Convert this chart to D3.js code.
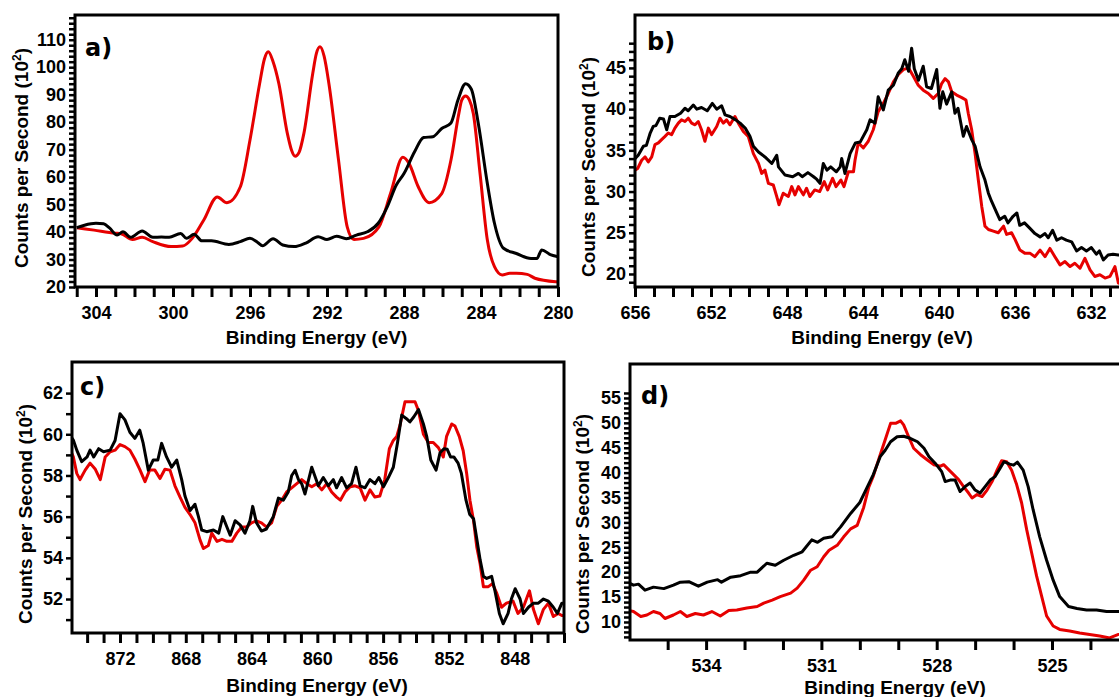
<!DOCTYPE html>
<html>
<head>
<meta charset="utf-8">
<script src="https://cdn.jsdelivr.net/npm/d3@7"></script>
<style>
  html, body { margin: 0; padding: 0; background: #fff; }
  svg { display: block; }
  .tick text { font-family: "Liberation Sans", Arial, sans-serif; font-weight: bold; font-size: 18px; fill: #000; }
  .title { font-family: "Liberation Sans", Arial, sans-serif; font-weight: bold; font-size: 19px; fill: #000; }
  .plabel { font-family: "DejaVu Sans", sans-serif; font-weight: bold; font-size: 24px; fill: #000; }
</style>
</head>
<body>
<svg id="chart" width="1119" height="697"></svg>
<script>
// ---------------- DATA ----------------
// Panel a (C 1s region)
const aRed = [[305.0,41.6],[304.1,40.7],[303.0,39.6],[302.7,39.4],[302.1,37.3],[301.6,38.1],[301.05,36.5],[300.1,34.7],[299.5,34.9],[299.0,37.7],[298.4,44.4],[297.7,52.8],[297.2,50.7],[296.5,56.5],[296.0,73.5],[295.5,94],[295.25,103],[295.05,105.6],[294.8,102],[294.5,94],[294.06,75.9],[293.85,70],[293.65,67.6],[293.45,69],[293.2,75.9],[292.74,97.7],[292.55,105],[292.36,107.4],[292.15,104],[291.9,94],[291.4,66.2],[290.95,41.9],[290.6,37.3],[290.1,37.7],[289.3,41.9],[288.7,54],[288.06,67.2],[287.74,65],[287.26,56.5],[286.7,50.7],[286.04,54],[285.56,66.2],[285.15,83.2],[285.0,88],[284.8,89.5],[284.6,88],[284.4,83.2],[284.05,61.3],[283.67,37.1],[283.3,27.4],[282.9,24.4],[282.5,25],[282.16,25],[281.6,24.6],[281.2,23.2],[280.1,21.9],[279.9,21.8]];
const aBlack = [[305.0,41.6],[304.6,42.5],[304.0,43.2],[303.6,43],[303.3,41.5],[302.9,38.9],[302.6,40.1],[302.2,38.1],[301.6,40.4],[301.05,38.1],[300.6,38.2],[300.2,38.1],[299.6,39.5],[299.3,37.7],[298.9,39.2],[298.5,36.8],[298.0,36.8],[297.1,35.5],[296.5,36.5],[296.0,37.7],[295.6,36.2],[295.35,35],[294.8,37.6],[294.3,35.3],[293.7,34.7],[293.1,36],[292.46,38.3],[292.0,37.3],[291.5,38.5],[291.0,37.6],[290.47,38.9],[289.9,40.1],[289.34,43.2],[288.87,49.2],[288.4,57.1],[288.0,61.3],[287.45,69.2],[286.98,74.4],[286.5,74.7],[286.04,77.7],[285.56,79.7],[285.2,88],[284.8,94],[284.5,92],[284.14,79.5],[283.67,57.7],[283.3,43.2],[282.83,34.1],[282.16,32.2],[281.4,30.4],[281.1,30.4],[280.84,33.5],[280.4,31.8],[280.1,31.2],[279.9,31]];
const aXLabels = [304,300,296,292,288,284,280];
const aYLabels = [20,30,40,50,60,70,80,90,100,110];

// Panel b (Mn 2p region)
const bRed = [[656.0,32.6],[655.86,32.8],[655.65,33.8],[655.47,34.2],[655.3,33.6],[655.12,34.2],[654.95,35.7],[654.77,35.9],[654.6,36.3],[654.42,36.7],[654.25,37.1],[654.07,36.9],[653.9,37.7],[653.72,38.3],[653.55,38.7],[653.37,38.5],[653.2,38.9],[653.02,38.3],[652.84,38.1],[652.67,38.5],[652.5,37.5],[652.32,36.1],[652.14,37.7],[651.97,36.9],[651.7,37.9],[651.53,38.9],[651.35,38.3],[651.18,38.7],[651.0,38.1],[650.74,39.1],[650.56,38.3],[650.3,37.3],[650.04,36.7],[649.77,34.6],[649.5,33.4],[649.33,32.2],[649.16,32.6],[648.98,31.0],[648.72,30.8],[648.54,29.4],[648.42,28.4],[648.2,29.8],[647.93,29.4],[647.75,30.6],[647.58,29.6],[647.4,30.6],[647.14,29.6],[646.97,30.4],[646.8,29.4],[646.54,30.2],[646.28,30],[646.04,31.2],[645.86,30.2],[645.6,31.6],[645.42,30.6],[645.16,31.4],[645.0,30.6],[644.77,32.4],[644.5,32.4],[644.42,33.8],[644.25,35.9],[643.98,35.3],[643.72,36.1],[643.46,37.5],[643.2,39.7],[642.93,40.7],[642.67,41.9],[642.4,43.3],[642.14,44.2],[641.88,44.8],[641.6,45],[641.35,44],[641.09,42.9],[640.83,42.3],[640.56,41.9],[640.3,41.3],[640.04,41.9],[639.86,43.1],[639.68,43.7],[639.5,43.3],[639.33,42.1],[639.07,41.7],[638.8,41.4],[638.58,41.1],[638.46,39.5],[638.28,37.5],[638.1,34.6],[637.93,31.4],[637.75,28.2],[637.58,25.8],[637.4,25.4],[637.14,25.2],[636.88,25],[636.6,25.8],[636.44,24.8],[636.18,25],[636.0,24.2],[635.74,22.9],[635.47,22.5],[635.2,22.5],[634.95,22.1],[634.68,22.9],[634.42,22.1],[634.16,23.1],[633.9,22.1],[633.63,21.1],[633.37,21.5],[633.1,20.9],[632.85,21.3],[632.58,20.7],[632.32,21.9],[632.05,20.5],[631.8,19.7],[631.53,19.9],[631.26,19.5],[631.0,19.7],[630.74,20.9],[630.56,18.9],[630.2,18.6]];
const bBlack = [[656.0,34.0],[655.83,34.4],[655.56,35.5],[655.4,35.6],[655.2,37.1],[655.04,37.9],[654.9,38],[654.7,38.9],[654.5,38.8],[654.33,37.5],[654.16,39.1],[653.9,39.1],[653.6,39.5],[653.37,40.1],[653.2,39.8],[652.93,40.5],[652.75,40],[652.5,40.2],[652.2,39.8],[651.93,40.7],[651.7,40],[651.44,40.4],[651.26,39.3],[651.0,39.1],[650.7,38.7],[650.47,38.3],[650.2,37.7],[649.95,36.7],[649.77,35.5],[649.5,34.8],[649.16,34.2],[648.8,33.4],[648.54,34.4],[648.45,33],[648.1,32],[647.7,31.8],[647.4,32.2],[647.2,31.8],[646.9,32.3],[646.6,31.8],[646.44,31.5],[646.26,31],[646.09,33.4],[645.9,32.6],[645.7,33],[645.4,32.4],[645.2,33],[645.12,34.0],[644.95,32.2],[644.68,34.6],[644.4,35.9],[644.15,36],[643.8,37.5],[643.63,38.7],[643.37,38.3],[643.2,41.5],[642.93,39.9],[642.67,42.3],[642.4,42.9],[642.14,44.4],[641.96,44.9],[641.8,46],[641.6,44.6],[641.44,47.4],[641.3,44.9],[641.08,43.5],[640.83,45.2],[640.65,42.7],[640.4,42.5],[640.12,44.8],[639.95,40.1],[639.8,42.1],[639.6,40.6],[639.33,42.1],[639.16,39.5],[639.0,40.1],[638.72,36.7],[638.55,37.9],[638.28,36.3],[638.1,35.5],[637.84,33.0],[637.58,31.4],[637.4,29.8],[637.23,28.8],[636.96,27.4],[636.8,26.6],[636.54,27],[636.37,26.2],[636.1,27],[635.9,27.4],[635.75,25.9],[635.5,26.2],[635.2,25.5],[634.95,24.9],[634.68,24.5],[634.42,24.9],[634.25,24.4],[634.02,25.3],[633.8,24.1],[633.55,24.4],[633.3,24.1],[633.02,23.9],[632.76,22.8],[632.5,23.2],[632.24,22.8],[631.98,23.2],[631.72,22.4],[631.56,22.8],[631.35,21.7],[631.1,22.3],[630.84,22.4],[630.56,22.3],[630.2,22.2]];
const bXLabels = [656,652,648,644,640,636,632];
const bYLabels = [20,25,30,35,40,45];

// Panel c (Ni 2p region)
const cRed = [[875.0,59.2],[874.84,58.9],[874.63,58.1],[874.43,57.8],[874.12,58.26],[873.82,58.6],[873.5,58.3],[873.2,57.8],[872.9,58.9],[872.6,59.15],[872.3,59.23],[872.0,59.5],[871.7,59.4],[871.4,59.23],[871.1,58.8],[870.8,58.3],[870.48,57.7],[870.2,58.26],[869.88,58.26],[869.57,57.85],[869.27,58.3],[868.96,58.26],[868.66,57.5],[868.35,56.95],[868.05,56.45],[867.74,56.1],[867.44,55.7],[867.13,54.86],[866.93,54.45],[866.63,54.6],[866.42,55.2],[866.1,54.8],[865.8,54.9],[865.5,54.8],[865.2,54.8],[864.9,55.2],[864.6,55.5],[864.3,55.5],[864.0,55.7],[863.7,55.8],[863.4,55.7],[863.1,55.5],[862.78,55.7],[862.47,56.5],[862.17,56.8],[861.87,57.2],[861.56,57.4],[861.25,57.6],[860.95,57.8],[860.64,57.6],[860.34,57.45],[860.04,57.6],[859.73,57.3],[859.43,57.6],[859.13,57.2],[858.83,56.95],[858.6,56.8],[858.32,57.2],[858.0,57.45],[857.7,57.5],[857.4,57.4],[857.1,56.8],[856.8,57.3],[856.5,56.95],[856.2,57.0],[855.9,57.8],[855.62,59.3],[855.38,59.7],[855.17,59.9],[854.97,60.45],[854.67,61.58],[854.37,61.58],[854.06,61.58],[853.86,61.17],[853.55,60.0],[853.25,59.6],[852.95,59.6],[852.64,59.35],[852.34,58.9],[852.14,59.9],[851.83,60.5],[851.63,60.4],[851.37,59.9],[851.13,59.2],[850.92,58.1],[850.72,56.8],[850.5,55.8],[850.3,54.5],[850.1,53.7],[849.9,52.6],[849.6,52.6],[849.35,52.75],[849.1,52.3],[848.8,51.6],[848.5,51.8],[848.1,51.9],[847.8,51.3],[847.47,51.6],[847.1,52.4],[846.86,51.5],[846.56,50.8],[846.25,51.5],[845.95,51.8],[845.65,51.15],[845.35,51.3],[845.13,51.2],[844.9,51.2]];
const cBlack = [[875.0,59.9],[874.84,59.72],[874.63,59.23],[874.33,58.67],[874.0,58.9],[873.82,59.23],[873.6,58.9],[873.3,59.3],[873.0,59.15],[872.6,59.23],[872.3,59.7],[872.0,61.0],[871.7,60.7],[871.4,60.1],[871.1,59.8],[870.8,60.2],[870.6,59.6],[870.28,58.26],[869.98,58.75],[869.7,58.75],[869.47,59.56],[869.17,58.9],[868.86,58.4],[868.55,58.75],[868.25,57.8],[868.05,57.0],[867.74,56.3],[867.44,56.6],[867.23,56.0],[867.03,55.35],[866.73,55.27],[866.32,55.35],[866.0,55.2],[865.75,56.0],[865.5,55.5],[865.3,55.1],[865.0,55.8],[864.7,55.6],[864.4,55.2],[864.1,55.8],[863.93,56.5],[863.7,55.7],[863.4,55.3],[863.1,55.4],[862.68,56.0],[862.37,56.9],[862.07,56.8],[861.77,57.2],[861.56,58.0],[861.35,58.25],[861.15,57.8],[860.95,57.6],[860.75,57.1],[860.34,58.4],[859.94,57.5],[859.64,57.9],[859.33,57.5],[859.03,57.8],[858.83,57.4],[858.52,57.9],[858.22,57.4],[857.92,57.6],[857.65,58.4],[857.4,57.5],[857.1,57.4],[856.8,57.8],[856.5,57.6],[856.26,57.9],[855.98,57.45],[855.68,57.9],[855.38,58.4],[855.13,59.56],[854.87,60.93],[854.6,60.77],[854.37,60.6],[854.13,60.85],[853.85,61.2],[853.55,60.5],[853.35,59.9],[853.1,58.75],[852.78,58.26],[852.54,59.1],[852.3,59.3],[852.1,59.27],[851.9,58.9],[851.7,58.9],[851.44,58.6],[851.24,58.1],[850.96,56.8],[850.73,56.1],[850.5,55.9],[850.32,55.0],[850.1,53.9],[849.9,53.1],[849.7,53.0],[849.4,53.1],[849.2,52.4],[848.93,51.3],[848.7,50.8],[848.4,51.3],[848.2,52.0],[847.97,52.5],[847.67,52.0],[847.47,51.3],[847.16,51.6],[846.86,51.8],[846.56,51.8],[846.25,52.0],[845.95,51.9],[845.65,51.6],[845.4,51.3],[845.13,51.8],[844.9,51.8]];
const cXLabels = [872,868,864,860,856,852,848];
const cYLabels = [52,54,56,58,60,62];

// Panel d (O 1s region)
const dRed = [[536.0,12.3],[535.89,12.1],[535.7,11.1],[535.54,11.4],[535.37,12.1],[535.2,11.7],[535.07,10.7],[534.85,11.4],[534.67,12.1],[534.5,11.1],[534.28,11.7],[534.07,11.4],[533.85,12.1],[533.63,11.2],[533.41,12.3],[533.2,12.4],[532.94,12.8],[532.67,13.1],[532.5,13.8],[532.28,14.4],[532.07,15.1],[531.8,15.8],[531.63,16.8],[531.46,18.4],[531.28,20.4],[531.11,21.1],[530.94,23.1],[530.8,24.4],[530.59,25.4],[530.42,27.1],[530.24,28.7],[530.07,29.4],[529.9,33.0],[529.77,37.0],[529.65,39.3],[529.47,43.6],[529.34,46.6],[529.2,49.9],[529.07,49.9],[528.94,50.4],[528.86,49.6],[528.73,47.2],[528.6,44.9],[528.42,43.6],[528.25,42.6],[528.08,41.6],[527.9,41.3],[527.82,41.6],[527.69,40.6],[527.56,39.6],[527.43,38.6],[527.3,37.2],[527.17,35.9],[527.08,34.9],[526.95,35.6],[526.82,35.2],[526.69,36.5],[526.56,38.2],[526.43,40.5],[526.31,42.4],[526.18,42.2],[526.05,40.5],[525.92,37.6],[525.79,33.9],[525.66,28.6],[525.53,23.9],[525.4,19.2],[525.27,15.2],[525.14,11.2],[524.97,9.2],[524.8,8.5],[524.54,8.2],[524.28,7.8],[524.02,7.5],[523.76,7.2],[523.5,6.8],[523.27,7.5],[522.9,7.6]];
const dBlack = [[536.0,17.8],[535.89,17.4],[535.76,17.6],[535.59,16.4],[535.37,17.0],[535.1,16.7],[534.85,17.4],[534.67,18.0],[534.45,18.1],[534.2,17.2],[533.97,18.0],[533.7,18.5],[533.6,18.0],[533.36,19.0],[533.1,19.3],[532.84,20.0],[532.67,20.0],[532.42,21.8],[532.2,21.4],[531.98,22.4],[531.72,23.4],[531.5,24.1],[531.25,26.5],[531.1,26.0],[530.94,26.8],[530.72,27.1],[530.5,29.1],[530.24,31.8],[530.0,34.0],[529.82,36.9],[529.65,39.6],[529.47,43.2],[529.34,44.5],[529.2,46.2],[529.03,47.2],[528.86,47.3],[528.69,46.9],[528.5,46.2],[528.33,44.9],[528.2,43.2],[528.04,41.9],[527.87,40.2],[527.78,38.2],[527.65,38.5],[527.52,38.5],[527.39,36.2],[527.26,37.2],[527.13,37.9],[527.0,36.5],[526.87,35.9],[526.74,37.2],[526.61,38.5],[526.48,39.2],[526.35,40.9],[526.25,42.2],[526.1,41.7],[526.0,41.5],[525.9,42.1],[525.75,40.5],[525.62,37.2],[525.49,32.5],[525.32,27.1],[525.14,22.4],[524.97,18.4],[524.8,15.1],[524.57,13.1],[524.35,12.7],[524.1,12.4],[523.84,12.4],[523.58,12.1],[523.27,12.1],[522.9,12.0]];
const dXLabels = [534,531,528,525];
const dYLabels = [10,15,20,25,30,35,40,45,50,55];

// ---------------- LAYOUT ----------------
const panels = [
  { id: "a)", red: aRed, black: aBlack, xLabels: aXLabels, yLabels: aYLabels,
    box: {l: 75, r: 558, t: 15, b: 287}, xDom: [305.09, 280], yDom: [20, 119],
    xMinor: [280, 305, 1], yMinor: [20, 118, 2], smooth: true,
    letter: [85, 56], ytitle: [21, 158], xtitle: [316.5, 344] },
  { id: "b)", red: bRed, black: bBlack, xLabels: bXLabels, yLabels: bYLabels,
    box: {l: 635, r: 1125, t: 15, b: 287}, xDom: [656, 630.21], yDom: [18.42, 51.42],
    xMinor: [631, 656, 1], yMinor: [19, 48, 1], smooth: false,
    letter: [647, 50], ytitle: [588, 167], xtitle: [882, 344] },
  { id: "c)", red: cRed, black: cBlack, xLabels: cXLabels, yLabels: cYLabels,
    box: {l: 72, r: 564, t: 362, b: 633}, xDom: [874.92, 845.0], yDom: [50.35, 63.51],
    xMinor: [845, 874, 1], yMinor: [51, 62, 1], smooth: false,
    letter: [80, 395], ytitle: [25, 514], xtitle: [317, 692] },
  { id: "d)", red: dRed, black: dBlack, xLabels: dXLabels, yLabels: dYLabels,
    box: {l: 630, r: 1160, t: 364, b: 640}, xDom: [535.98, 522.19], yDom: [6.38, 61.82],
    xMinor: [523, 535, 1], yMinor: [7, 56, 1], smooth: false,
    letter: [641, 404], ytitle: [582, 524], xtitle: [895, 694] }
];

const svg = d3.select("#chart");

panels.forEach((p, i) => {
  const g = svg.append("g");
  const B = p.box;
  const x = d3.scaleLinear().domain(p.xDom).range([B.l, B.r]);
  const y = d3.scaleLinear().domain(p.yDom).range([B.b, B.t]);

  const clipId = "clip" + i;
  g.append("clipPath").attr("id", clipId)
    .append("rect").attr("x", B.l).attr("y", B.t).attr("width", B.r - B.l).attr("height", B.b - B.t);

  const line = d3.line().x(d => x(d[0])).y(d => y(d[1]))
    .curve(p.smooth ? d3.curveMonotoneX : d3.curveLinear);

  const lines = g.append("g").attr("clip-path", `url(#${clipId})`);
  lines.append("path").datum(p.red).attr("d", line)
    .attr("fill", "none").attr("stroke", "#e60000").attr("stroke-width", 3).attr("stroke-linejoin", "round");
  lines.append("path").datum(p.black).attr("d", line)
    .attr("fill", "none").attr("stroke", "#000").attr("stroke-width", 3).attr("stroke-linejoin", "round");

  // X axis
  const xTicks = d3.range(p.xMinor[0], p.xMinor[1] + 0.001, p.xMinor[2]);
  const xAxis = d3.axisBottom(x).tickValues(xTicks).tickSize(10).tickPadding(9)
    .tickFormat(d => p.xLabels.includes(d) ? String(d) : "");
  const gx = g.append("g").attr("transform", `translate(0,${B.b})`).call(xAxis);
  gx.select(".domain").remove();
  gx.selectAll(".tick line").attr("stroke", "#000").attr("stroke-width", 3);

  // Y axis
  const yTicks = d3.range(p.yMinor[0], p.yMinor[1] + 0.001, p.yMinor[2]);
  const yAxis = d3.axisLeft(y).tickValues(yTicks).tickSize(6).tickPadding(3)
    .tickFormat(d => p.yLabels.includes(d) ? String(d) : "");
  const gy = g.append("g").attr("transform", `translate(${B.l},0)`).call(yAxis);
  gy.select(".domain").remove();
  gy.selectAll(".tick line").attr("stroke", "#000").attr("stroke-width", 2.5);

  // Frame
  g.append("rect").attr("x", B.l).attr("y", B.t).attr("width", B.r - B.l).attr("height", B.b - B.t)
    .attr("fill", "none").attr("stroke", "#000").attr("stroke-width", 3);

  // Panel letter
  g.append("text").attr("class", "plabel").attr("x", p.letter[0]).attr("y", p.letter[1]).text(p.id);

  // X title
  g.append("text").attr("class", "title").attr("text-anchor", "middle")
    .attr("x", p.xtitle[0]).attr("y", p.xtitle[1]).text("Binding Energy (eV)");

  // Y title
  const yt = g.append("text").attr("class", "title").attr("text-anchor", "middle")
    .attr("transform", `translate(${p.ytitle[0] + 7},${p.ytitle[1]}) rotate(-90)`);
  yt.append("tspan").text("Counts per Second (10");
  yt.append("tspan").attr("font-size", "12px").attr("dy", -7).text("2");
  yt.append("tspan").attr("dy", 7).text(")");
});
</script>
</body>
</html>
